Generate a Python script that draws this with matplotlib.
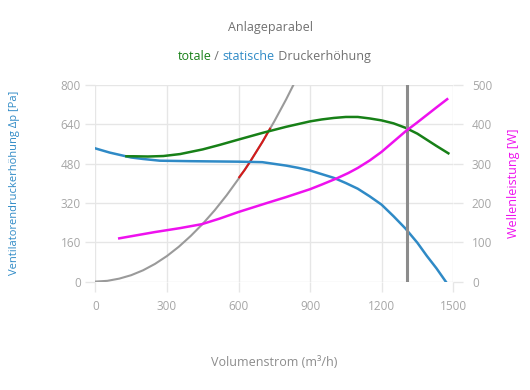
import matplotlib
matplotlib.use('Agg')
import matplotlib.pyplot as plt

plt.rcParams['font.family'] = ['Open Sans', 'DejaVu Sans']

# volume flow (m3/h) -> static pressure rise (Pa)
q_static = [0, 60, 150, 200, 270, 400, 500, 600, 700, 800, 850, 900, 950,
            1000, 1050, 1100, 1150, 1200, 1250, 1300, 1350, 1390, 1430, 1474]
dp_static = [542, 525, 505, 499, 492, 490, 489, 488, 486, 472, 463, 452, 437,
             422, 401, 378, 347, 313, 266, 216, 158, 104, 54, -7]

# total pressure rise (Pa)
q_total = [130, 160, 220, 285, 355, 450, 520, 600, 700, 800, 900, 950, 1000,
           1050, 1100, 1150, 1200, 1250, 1300, 1350, 1390, 1430, 1480]
dp_total = [510, 510, 509, 511, 519, 538, 556, 578, 605, 630, 652, 660, 666,
            670, 670, 664, 656, 644, 626, 602, 577, 552, 522]

# shaft power (W)
q_power = [100, 250, 355, 446, 520, 600, 720, 800, 900, 950, 1010, 1060,
           1100, 1150, 1200, 1250, 1300, 1350, 1390, 1430, 1475]
p_power = [110, 126, 136, 146, 160, 177, 200, 215, 235, 247, 262, 276,
           289, 308, 330, 356, 382, 405, 424, 443, 464]

# system curve (Anlageparabel)
q_system = [0, 50, 100, 150, 200, 250, 300, 350, 400, 450, 500, 550, 600,
            650, 700, 750, 800, 830]
dp_system = [0, 3, 12, 26, 46, 72, 104, 142, 186, 235, 290, 351, 418,
             490, 568, 652, 742, 800]

# highlighted part of system curve
q_red = [603, 625, 650, 675, 700, 732]
dp_red = [425, 453, 490, 529, 568, 622]

q_mark = 1305

x_ticks = [0, 300, 600, 900, 1200, 1500]
y_ticks = [0, 160, 320, 480, 640, 800]
y2_ticks = [0, 100, 200, 300, 400, 500]

c_blue = '#2f8ac6'
c_green = '#178017'
c_mag = '#ee11ee'
c_red = '#d41a1a'
c_gray = '#9a9a9a'
c_grid = '#e6e6e6'
c_text = '#a6a6a6'

fig = plt.figure(figsize=(5.3, 3.9), dpi=100)
ax = fig.add_axes([0.180, 0.278, 0.675, 0.504])
ax2 = ax.twinx()

ax.plot(q_system, dp_system, color=c_gray, lw=1.5, zorder=3)
ax.plot(q_red, dp_red, color=c_red, lw=1.5, zorder=4)
ax.plot(q_static, dp_static, color=c_blue, lw=1.8, zorder=5)
ax.plot(q_total, dp_total, color=c_green, lw=1.8, zorder=5)
ax.axvline(q_mark, color='#8c8c8c', lw=2.2, zorder=6)
ax2.plot(q_power, p_power, color=c_mag, lw=1.8)

ax.set_xlim(0, 1500)
ax.set_ylim(0, 800)
ax2.set_ylim(0, 500)
ax.set_xticks(x_ticks)
ax.set_yticks(y_ticks)
ax2.set_yticks(y2_ticks)

for a in (ax, ax2):
    for s in a.spines.values():
        s.set_visible(False)
    a.tick_params(colors=c_grid, labelcolor=c_text, labelsize=8.5,
                  length=7.5, width=1)
ax.tick_params(axis='y', pad=3)
ax.tick_params(axis='x', pad=6)
ax2.tick_params(axis='y', pad=6)
ax.grid(True, color=c_grid, lw=1)
ax.set_axisbelow(True)

ax.set_ylabel('Ventilatorendruckerhöhung Δp [Pa]', color=c_blue, fontsize=8)
ax.yaxis.set_label_coords(-0.21, 0.5)
ax2.set_ylabel('Wellenleistung [W]', color=c_mag, fontsize=9)
ax2.yaxis.set_label_coords(1.15, 0.5)
ax.set_xlabel('Volumenstrom (m³/h)', color='#8c8c8c', fontsize=9)
ax.xaxis.set_label_coords(0.5, -0.38)

fig.text(0.51, 0.93, 'Anlageparabel', ha='center', va='center',
         color='#707070', fontsize=9)
t1 = fig.text(0.335, 0.855, 'totale', ha='left', va='center', color=c_green, fontsize=9)
fig.canvas.draw()
r = fig.canvas.get_renderer()
bb = t1.get_window_extent(r)
t2 = fig.text(bb.x1 / fig.bbox.width, 0.855, ' / ', ha='left', va='center',
              color='#707070', fontsize=9)
bb = t2.get_window_extent(r)
t3 = fig.text(bb.x1 / fig.bbox.width, 0.855, 'statische', ha='left', va='center',
              color=c_blue, fontsize=9)
bb = t3.get_window_extent(r)
fig.text(bb.x1 / fig.bbox.width, 0.855, ' Druckerhöhung', ha='left', va='center',
         color='#707070', fontsize=9)

fig.savefig('out.png', dpi=100)
